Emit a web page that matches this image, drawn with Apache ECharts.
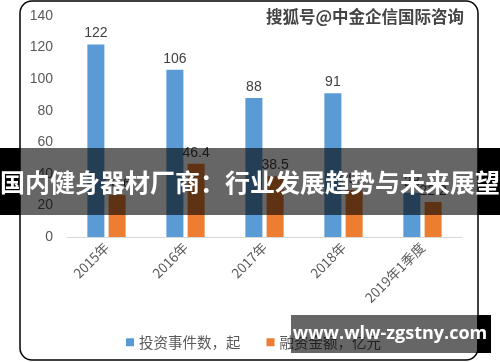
<!DOCTYPE html>
<html><head><meta charset="utf-8">
<script src="https://cdn.jsdelivr.net/npm/echarts@6/dist/echarts.min.js"></script>
<style>html,body{margin:0;padding:0;background:#fff;}#c{width:500px;height:362px;}</style>
</head><body><div id="c"></div>
<script>
const categories = ['2015年','2016年','2017年','2018年','2019年1季度'];
const investCount = [122, 106, 88, 91, 28];
const financeAmount = [26.6, 46.4, 38.5, 29.7, 22.2];
const yTicks = {min: 0, max: 140, interval: 20};
const seriesNames = ['投资事件数，起', '融资金额，亿元'];
const bannerText = '国内健身器材厂商：行业发展趋势与未来展望';
const watermarkText = '搜狐号@中金企信国际咨询';
const siteText = 'www.wlw-zgstny.com';

const chart = echarts.init(document.getElementById('c'));
const font = '"Noto Sans CJK SC", "Liberation Sans", sans-serif';
chart.setOption({
  animation: false,
  backgroundColor: '#fff',
  textStyle: {fontFamily: font},
  grid: {left: 67, right: 38, top: 16, bottom: 125},
  legend: {
    left: 121, top: 330, itemWidth: 8, itemHeight: 8, itemGap: 26, icon: 'rect',
    textStyle: {color: '#595959', fontSize: 14.5, fontFamily: font},
    data: seriesNames
  },
  xAxis: {
    type: 'category', data: categories,
    axisLine: {lineStyle: {color: '#d9d9d9', width: 1}},
    axisTick: {show: false},
    axisLabel: {rotate: 45, color: '#595959', fontSize: 13.5, margin: 8, interval: 0}
  },
  yAxis: {
    type: 'value', min: yTicks.min, max: yTicks.max, interval: yTicks.interval,
    axisLine: {show: false}, axisTick: {show: false}, splitLine: {show: false},
    axisLabel: {color: '#595959', fontSize: 14, margin: 14, fontFamily: '"Liberation Sans", sans-serif'}
  },
  series: [
    {name: seriesNames[0], type: 'bar', data: investCount, barWidth: 17, barGap: '25%',
     itemStyle: {color: '#5b9bd5'},
     label: {show: true, position: 'top', color: '#404040', fontSize: 14, distance: 4,
             fontFamily: '"Liberation Sans", sans-serif'}},
    {name: seriesNames[1], type: 'bar', data: financeAmount, barWidth: 17,
     itemStyle: {color: '#ed7d31'},
     label: {show: true, position: 'top', color: '#404040', fontSize: 14, distance: 4,
             fontFamily: '"Liberation Sans", sans-serif'}}
  ],
  graphic: [
    {type: 'rect', z: -10, silent: true,
     shape: {x: 20, y: 1, width: 458, height: 359, r: 12},
     style: {fill: 'rgba(0,0,0,0)', stroke: '#000', lineWidth: 1.5}},
    {type: 'text', z: 100, left: 265, top: 7,
     style: {text: watermarkText, fill: '#444', fontSize: 16.5, fontWeight: 'bold',
             fontFamily: font, stroke: '#fff', lineWidth: 2}},
    {type: 'rect', z: 100, shape: {x: 0, y: 148, width: 20, height: 67}, style: {fill: '#000'}},
    {type: 'rect', z: 100, shape: {x: 478, y: 148, width: 22, height: 67}, style: {fill: '#000'}},
    {type: 'rect', z: 100, shape: {x: 20, y: 148, width: 458, height: 67}, style: {fill: 'rgba(0,0,0,0.6)'}},
    {type: 'text', z: 101, x: 250, y: 182,
     style: {text: bannerText, fill: '#fff', fontSize: 25, fontWeight: 'bold', fontFamily: font,
             textAlign: 'center', textVerticalAlign: 'middle'}},
    {type: 'rect', z: 100, shape: {x: 477, y: 315, width: 14, height: 38}, style: {fill: '#000'}},
    {type: 'rect', z: 100, shape: {x: 291, y: 315, width: 186, height: 38}, style: {fill: 'rgba(0,0,0,0.6)'}},
    {type: 'text', z: 101, x: 390, y: 334,
     style: {text: siteText, fill: '#fff', fontSize: 18, fontWeight: 'bold',
             fontFamily: '"Open Sans", "DejaVu Sans", sans-serif',
             textAlign: 'center', textVerticalAlign: 'middle'}}
  ]
});
</script></body></html>
